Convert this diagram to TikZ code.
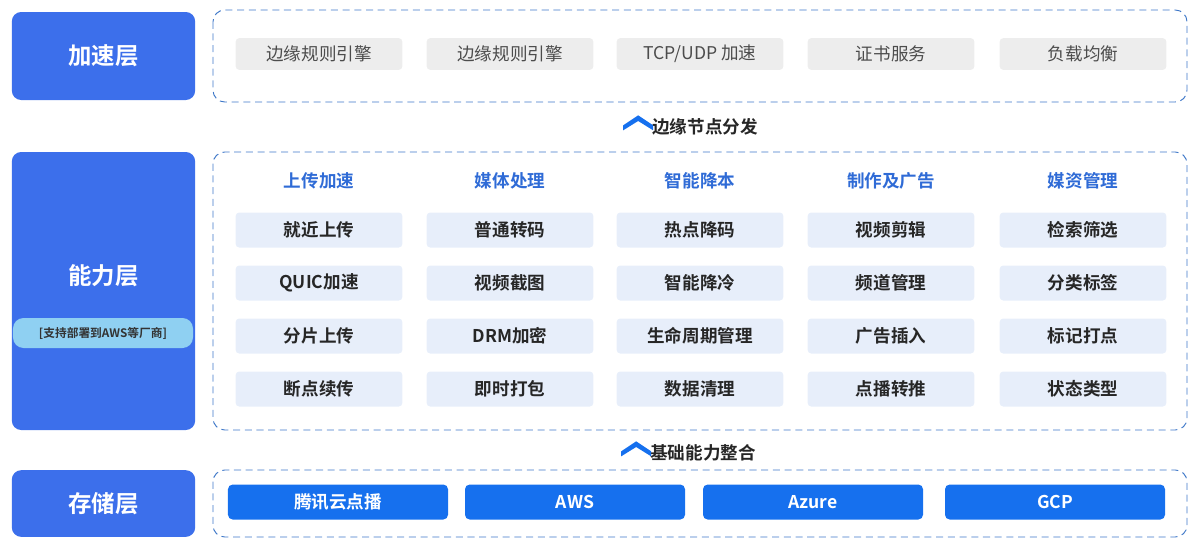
\documentclass[tikz,border=0pt]{standalone}
\usepackage{fontspec}
\setmainfont{Noto Sans CJK SC}[BoldFont={Noto Sans CJK SC Bold}]
\usetikzlibrary{positioning}
\definecolor{layerblue}{HTML}{3C6FEB}
\definecolor{boxblue}{HTML}{1670EE}
\definecolor{dashblue}{HTML}{3F78C8}
\definecolor{cellfill}{HTML}{E7EEFA}
\definecolor{grayfill}{HTML}{EDEDED}
\definecolor{headblue}{HTML}{2F6BD6}
\definecolor{pillfill}{HTML}{8FD0F2}

\begin{document}
\begin{tikzpicture}[x=0.03cm,y=-0.03cm,
    layer/.style={%
      rectangle, rounded corners=8pt, fill=layerblue, text=white,
      font=\bfseries\fontsize{20}{24}\selectfont, inner sep=0pt
    },
    frame/.style={%
      draw=dashblue, thick, dash pattern=on 6pt off 4pt, rounded corners=10pt
    },
    gcell/.style={%
      rectangle, rounded corners=3pt, fill=grayfill, text=black!70,
      minimum width=5cm, minimum height=0.95cm, inner sep=0pt,
      font=\fontsize{15}{18}\selectfont
    },
    cell/.style={%
      rectangle, rounded corners=3pt, fill=cellfill, text=black!85,
      minimum width=5cm, minimum height=1.05cm, inner sep=0pt,
      font=\bfseries\fontsize{15}{18}\selectfont
    },
    head/.style={%
      text=headblue, font=\bfseries\fontsize{15}{18}\selectfont
    },
    store/.style={%
      rectangle, rounded corners=4pt, fill=boxblue, text=white,
      minimum width=6.6cm, minimum height=1.05cm, inner sep=0pt,
      font=\bfseries\fontsize{15}{18}\selectfont
    },
    flow/.style={%
      text=black!85, font=\bfseries\fontsize{15}{18}\selectfont
    }
]
    \useasboundingbox (0,0) rectangle (1200,547);

    % layer labels
    \node[layer, minimum width=5.5cm, minimum height=2.64cm] (acc) at (103.5,56) {加速层};
    \node[layer, minimum width=5.5cm, minimum height=8.34cm, text depth=0pt] (cap) at (103.5,291) {};
    \node[text=white, font=\bfseries\fontsize{20}{24}\selectfont] (capt) at (103.5,276) {能力层};
    \node[rectangle, rounded corners=9pt, fill=pillfill, minimum width=5.4cm, minimum height=0.9cm,
          inner sep=0pt, font=\bfseries\fontsize{10}{12}\selectfont, text=black!80] (pill) at (103,333)
          {[支持部署到AWS等厂商]};
    \node[layer, minimum width=5.5cm, minimum height=2.0cm] (sto) at (103.5,503.5) {存储层};

    % dashed frames
    \draw[frame] (213,10) rectangle (1187,102);
    \draw[frame] (213,152) rectangle (1187,430);
    \draw[frame] (213,470) rectangle (1187,537);

    % acceleration layer
    \node[gcell] (a1) at (319,54)  {边缘规则引擎};
    \node[gcell] (a2) at (510,54)  {边缘规则引擎};
    \node[gcell] (a3) at (700,54)  {TCP/UDP 加速};
    \node[gcell] (a4) at (891,54)  {证书服务};
    \node[gcell] (a5) at (1083,54) {负载均衡};

    % flow labels
    \node[flow] (f1) at (705,127) {边缘节点分发};
    \fill[boxblue] ([xshift=-0.75cm,yshift=0.05cm]f1.west) -- ++(0.45cm,0.3cm) -- ++(0.45cm,-0.3cm)
                   -- ++(0,-0.15cm) -- ++(-0.45cm,0.28cm) -- ++(-0.45cm,-0.28cm) -- cycle;
    \node[flow] (f2) at (703,453) {基础能力整合};
    \fill[boxblue] ([xshift=-0.75cm,yshift=0.05cm]f2.west) -- ++(0.45cm,0.3cm) -- ++(0.45cm,-0.3cm)
                   -- ++(0,-0.15cm) -- ++(-0.45cm,0.28cm) -- ++(-0.45cm,-0.28cm) -- cycle;

    % capability layer
    \foreach \x/\h/\a/\b/\c/\d [count=\i] in {
        319/上传加速/就近上传/QUIC加速/分片上传/断点续传,
        510/媒体处理/普通转码/视频截图/DRM加密/即时打包,
        700/智能降本/热点降码/智能降冷/生命周期管理/数据清理,
        891/制作及广告/视频剪辑/频道管理/广告插入/点播转推,
        1083/媒资管理/检索筛选/分类标签/标记打点/状态类型}{
      \node[head] (h\i)  at (\x,181) {\h};
      \node[cell] (c\i1) at (\x,230) {\a};
      \node[cell] (c\i2) at (\x,283) {\b};
      \node[cell] (c\i3) at (\x,336) {\c};
      \node[cell] (c\i4) at (\x,389) {\d};
    }

    % storage layer
    \node[store] (s1) at (338,502)  {腾讯云点播};
    \node[store] (s2) at (575,502)  {AWS};
    \node[store] (s3) at (813,502)  {Azure};
    \node[store] (s4) at (1055,502) {GCP};
\end{tikzpicture}
\end{document}
